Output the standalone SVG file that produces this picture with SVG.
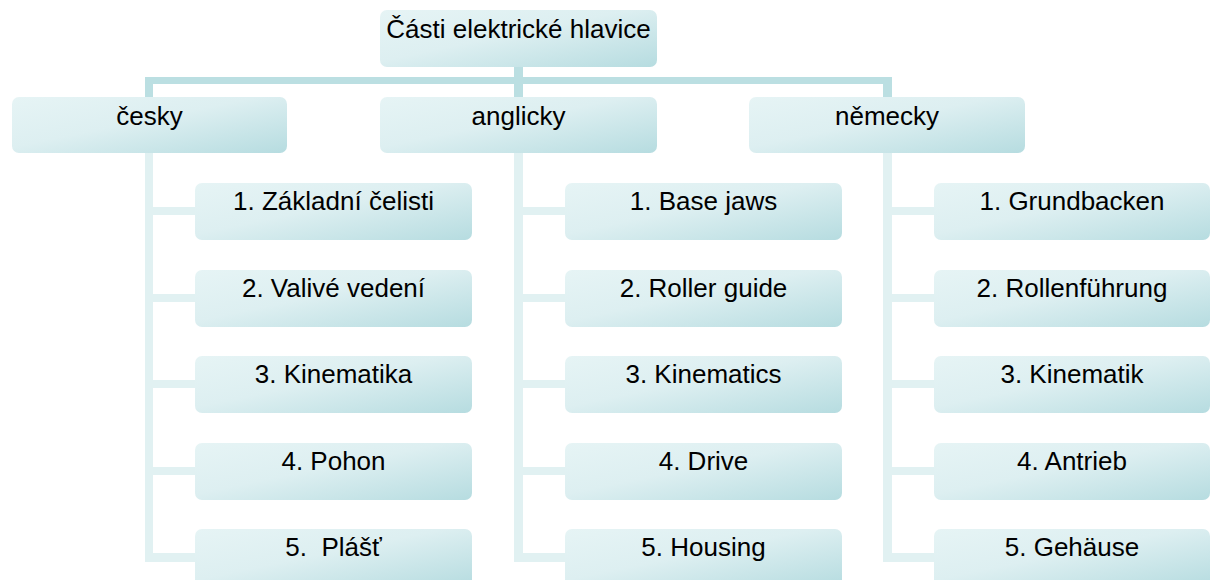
<svg xmlns="http://www.w3.org/2000/svg" width="1212" height="580" viewBox="0 0 1212 580">
<defs>
<linearGradient id="g" x1="0" y1="0" x2="1" y2="1">
<stop offset="0" stop-color="#e6f4f5"/>
<stop offset="0.45" stop-color="#ddeff1"/>
<stop offset="1" stop-color="#b6dce0"/>
</linearGradient>
<style>
.box{fill:url(#g);}
.dark{fill:#bbdfe2;}
.light{fill:#e1f1f2;}
.t{font-family:"Liberation Sans",Arial,sans-serif;font-size:26px;fill:#000;text-anchor:middle;}
</style>
</defs>
<rect width="1212" height="580" fill="#fff"/>
<g id="connectors">
<rect class="dark" x="514" y="66" width="9" height="12"/>
<rect class="dark" x="145" y="77" width="747" height="7"/>
<rect class="dark" x="145" y="84" width="8" height="14"/>
<rect class="dark" x="514" y="84" width="9" height="14"/>
<rect class="dark" x="883" y="84" width="9" height="14"/>
<rect class="light" x="145" y="152" width="8" height="410"/>
<rect class="light" x="514" y="152" width="9" height="410"/>
<rect class="light" x="883" y="152" width="9" height="410"/>
<rect class="light" x="153" y="207" width="43" height="8"/>
<rect class="light" x="153" y="294" width="43" height="8"/>
<rect class="light" x="153" y="380" width="43" height="8"/>
<rect class="light" x="153" y="467" width="43" height="8"/>
<rect class="light" x="153" y="553" width="43" height="9"/>
<rect class="light" x="523" y="207" width="43" height="8"/>
<rect class="light" x="523" y="294" width="43" height="8"/>
<rect class="light" x="523" y="380" width="43" height="8"/>
<rect class="light" x="523" y="467" width="43" height="8"/>
<rect class="light" x="523" y="553" width="43" height="9"/>
<rect class="light" x="892" y="207" width="43" height="8"/>
<rect class="light" x="892" y="294" width="43" height="8"/>
<rect class="light" x="892" y="380" width="43" height="8"/>
<rect class="light" x="892" y="467" width="43" height="8"/>
<rect class="light" x="892" y="553" width="43" height="9"/>
</g>
<g id="root"><rect class="box" x="380" y="10" width="277" height="57" rx="7"/><text class="t" x="518.5" y="38">Části elektrické hlavice</text></g>
<g id="cesky"><rect class="box" x="12" y="97" width="275" height="56" rx="7"/><text class="t" x="149.5" y="125">česky</text></g>
<g id="anglicky"><rect class="box" x="380" y="97" width="277" height="56" rx="7"/><text class="t" x="518.5" y="125">anglicky</text></g>
<g id="nemecky"><rect class="box" x="749" y="97" width="276" height="56" rx="7"/><text class="t" x="887" y="125">německy</text></g>

<g id="cz1"><rect class="box" x="195" y="183" width="277" height="57" rx="7"/><text class="t" x="333.5" y="210">1. Základní čelisti</text></g>
<g id="cz2"><rect class="box" x="195" y="270" width="277" height="57" rx="7"/><text class="t" x="333.5" y="297">2. Valivé vedení</text></g>
<g id="cz3"><rect class="box" x="195" y="356" width="277" height="57" rx="7"/><text class="t" x="333.5" y="383">3. Kinematika</text></g>
<g id="cz4"><rect class="box" x="195" y="443" width="277" height="57" rx="7"/><text class="t" x="333.5" y="470">4. Pohon</text></g>
<g id="cz5"><rect class="box" x="195" y="529" width="277" height="57" rx="7"/><text class="t" xml:space="preserve" x="333.5" y="556">5.  Plášť</text></g>

<g id="en1"><rect class="box" x="565" y="183" width="277" height="57" rx="7"/><text class="t" x="703.5" y="210">1. Base jaws</text></g>
<g id="en2"><rect class="box" x="565" y="270" width="277" height="57" rx="7"/><text class="t" x="703.5" y="297">2. Roller guide</text></g>
<g id="en3"><rect class="box" x="565" y="356" width="277" height="57" rx="7"/><text class="t" x="703.5" y="383">3. Kinematics</text></g>
<g id="en4"><rect class="box" x="565" y="443" width="277" height="57" rx="7"/><text class="t" x="703.5" y="470">4. Drive</text></g>
<g id="en5"><rect class="box" x="565" y="529" width="277" height="57" rx="7"/><text class="t" x="703.5" y="556">5. Housing</text></g>

<g id="de1"><rect class="box" x="934" y="183" width="276" height="57" rx="7"/><text class="t" x="1072" y="210">1. Grundbacken</text></g>
<g id="de2"><rect class="box" x="934" y="270" width="276" height="57" rx="7"/><text class="t" x="1072" y="297">2. Rollenführung</text></g>
<g id="de3"><rect class="box" x="934" y="356" width="276" height="57" rx="7"/><text class="t" x="1072" y="383">3. Kinematik</text></g>
<g id="de4"><rect class="box" x="934" y="443" width="276" height="57" rx="7"/><text class="t" x="1072" y="470">4. Antrieb</text></g>
<g id="de5"><rect class="box" x="934" y="529" width="276" height="57" rx="7"/><text class="t" x="1072" y="556">5. Gehäuse</text></g>
</svg>
